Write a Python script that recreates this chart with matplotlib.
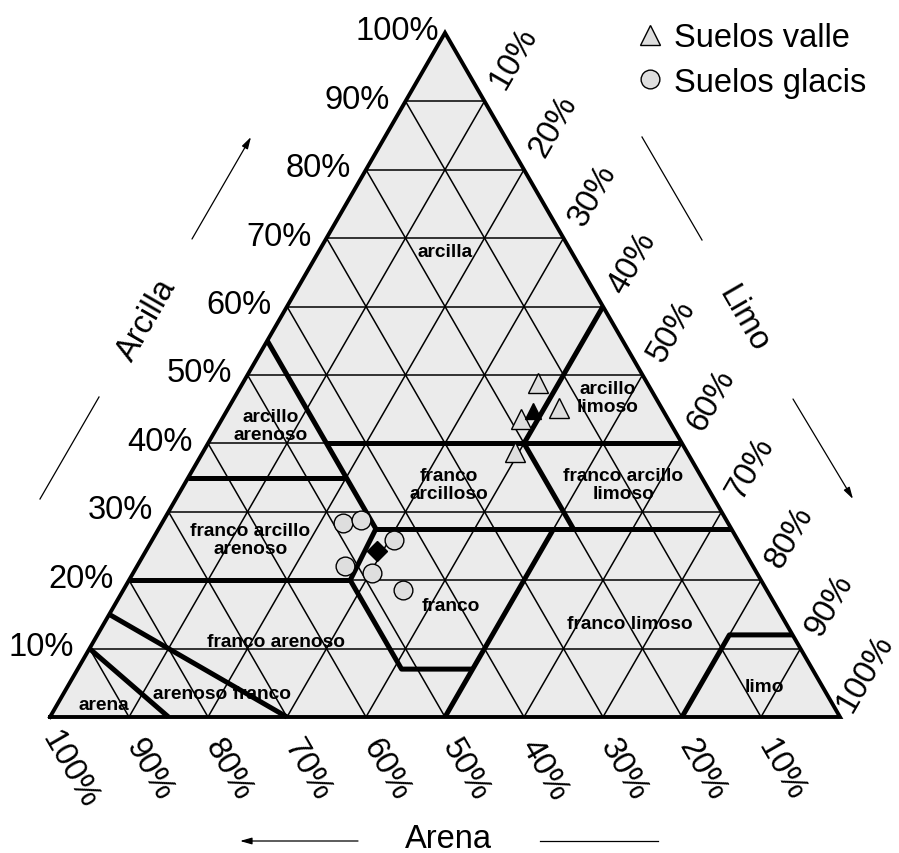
import numpy as np
import matplotlib

matplotlib.use("Agg")
import matplotlib.pyplot as plt

plt.rcParams["font.family"] = ["Liberation Sans", "DejaVu Sans"]

# puntos: % arcilla y % limo (arena = resto)
valle_arcilla = [48.8, 43.6, 45.1, 38.8]
valle_limo = [37.4, 37.8, 41.9, 39.5]
valle_media = [44.7, 38.8]
glacis_arcilla = [28.3, 28.8, 25.8, 22.1, 21.1, 18.6]
glacis_limo = [23.0, 25.0, 30.7, 26.3, 30.2, 35.4]
glacis_media = [24.3, 29.2]

ticks = [10, 20, 30, 40, 50, 60, 70, 80, 90, 100]

# clases texturales: nombre, % arcilla, % limo del centro del rotulo
clases = ["arcilla", "arcillo\narenoso", "franco arcillo\narenoso", "franco arenoso",
          "arena", "arenoso franco", "franco\narcilloso", "franco", "arcillo\nlimoso",
          "franco arcillo\nlimoso", "franco limoso", "limo"]
clases_arcilla = [68.1, 42.6, 25.9, 11.1, 1.9, 3.5, 34.0, 16.3, 46.7, 34.0, 13.6, 4.5]
clases_limo = [16.0, 6.6, 12.4, 23.1, 5.8, 20.0, 33.5, 42.6, 47.2, 55.6, 66.6, 88.2]

# limites entre clases, polilineas de (% arcilla, % limo)
limites = [
    [(55, 0), (27.5, 27.5), (20, 28), (7, 41), (7, 50)],
    [(40, 15), (40, 60)],
    [(40, 40), (60, 40)],
    [(35, 0), (35, 20)],
    [(27.5, 27.5), (27.5, 72.5)],
    [(27.5, 52.5), (40, 40)],
    [(20, 0), (20, 28)],
    [(0, 50), (27.5, 50)],
    [(0, 80), (12, 80), (12, 88)],
    [(15, 0), (0, 30)],
    [(10, 0), (0, 15)],
]

H = np.sqrt(3) / 2
S = 790.0  # pixeles por unidad de lado


def tern(arcilla, limo):
    c = np.asarray(arcilla, dtype=float) / 100
    s = np.asarray(limo, dtype=float) / 100
    return s + c / 2, c * H


def px(x, y):
    # posicion en pixeles de la imagen -> coordenadas del eje
    return (x - 50) / S, (718 - y) / S


fig = plt.figure(figsize=(8.99, 8.54), dpi=100)
ax = fig.add_axes([0, 0, 1, 1])
ax.set_xlim(-50 / S, 849 / S)
ax.set_ylim(-136 / S, 718 / S)
ax.axis("off")

# fondo del triangulo
tx, ty = tern([0, 100, 0, 0], [0, 0, 100, 0])
ax.fill(tx, ty, color="#ebebeb", zorder=0)

# rejilla cada 10 %
for v in range(10, 100, 10):
    for a, b in [((v, 0), (v, 100 - v)), ((0, v), (100 - v, v)), ((0, 100 - v), (100 - v, 0))]:
        x, y = tern([a[0], b[0]], [a[1], b[1]])
        ax.plot(x, y, color="black", lw=1.1, zorder=1)

for lim in limites:
    c, s = zip(*lim)
    x, y = tern(c, s)
    ax.plot(x, y, color="black", lw=3.6, solid_capstyle="butt", zorder=2)

ax.plot(tx, ty, color="black", lw=2.8, solid_joinstyle="miter", zorder=3)

# rotulos de las clases
for nombre, c, s in zip(clases, clases_arcilla, clases_limo):
    x, y = tern(c, s)
    ax.text(x, y, nombre, ha="center", va="center", fontsize=13.8,
            fontweight="bold", linespacing=1.05, zorder=4)

# etiquetas de los ejes
fs = 23.5
for v in ticks:
    x, y = tern(v, 0)
    ax.text(x - 48 / S, y + 2 / S, f"{v}%", ha="center", va="center", fontsize=fs)
    x, y = tern(100 - v, v)
    d = 25 if v == 100 else 29  # el 100 % queda pegado al borde derecho
    ax.text(x + d / S, y + 44 / S, f"{v}%", ha="center", va="center",
            fontsize=fs, rotation=60, rotation_mode="anchor")
    x, y = tern(0, 100 - v)
    ax.text(x + 20 / S, y - 52 / S, f"{v}%", ha="center", va="center",
            fontsize=fs, rotation=-60, rotation_mode="anchor")

ax.text(*px(147, 320), "Arcilla", ha="center", va="center", fontsize=fs,
        rotation=60, rotation_mode="anchor")
ax.text(*px(743, 319), "Limo", ha="center", va="center", fontsize=fs,
        rotation=-60, rotation_mode="anchor")
ax.text(*px(448, 840), "Arena", ha="center", va="center", fontsize=fs)

flecha = dict(arrowstyle="-|>,head_length=0.7,head_width=0.2", lw=0.9, color="black",
              shrinkA=0, shrinkB=0)
ax.annotate("", xy=px(251, 138), xytext=px(192, 240), arrowprops=flecha)
ax.annotate("", xy=px(853, 500), xytext=px(793, 400), arrowprops=flecha)
ax.annotate("", xy=px(240, 842), xytext=px(358, 842), arrowprops=flecha)
for (x0, y0), (x1, y1) in [((40, 500), (99, 398)), ((642, 138), (702, 241)),
                           ((540, 842), (658, 842))]:
    (a0, b0), (a1, b1) = px(x0, y0), px(x1, y1)
    ax.plot([a0, a1], [b0, b1], color="black", lw=0.9)

# muestras
x, y = tern(valle_arcilla, valle_limo)
valle, = ax.plot(x, y, "^", ms=14.5, mfc="#dedede", mec="black", mew=1.0, ls="none", zorder=5)
x, y = tern(*valle_media)
ax.plot(x, y, "^", ms=12, mfc="black", mec="black", ls="none", zorder=6)
x, y = tern(glacis_arcilla, glacis_limo)
glacis, = ax.plot(x, y, "o", ms=13.5, mfc="#dedede", mec="black", mew=1.0, ls="none", zorder=5)
x, y = tern(*glacis_media)
ax.plot(x, y, "D", ms=10.5, mfc="black", mec="black", ls="none", zorder=6)

ax.legend([valle, glacis], ["Suelos valle", "Suelos glacis"], loc="upper left",
          bbox_to_anchor=(640 / 899, 1 - 23 / 854), frameon=False, fontsize=fs,
          handlelength=0.6, handletextpad=0.45, labelspacing=0.42, borderpad=0,
          borderaxespad=0)

fig.savefig("out.png", dpi=100)
